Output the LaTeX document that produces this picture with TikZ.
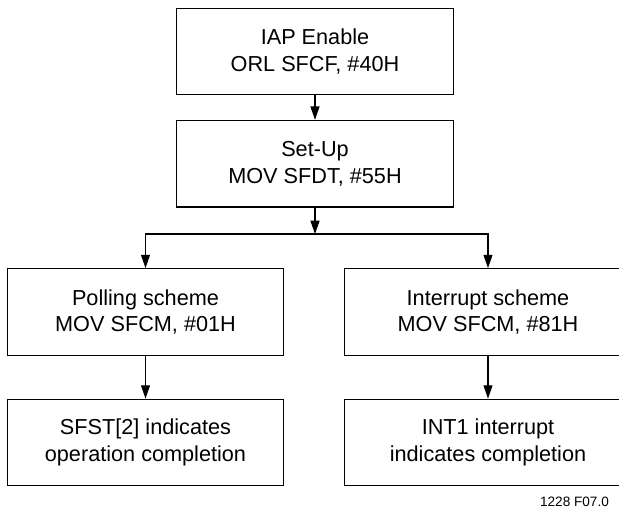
\documentclass[tikz,border=0pt]{standalone}
\usepackage{fontspec}
\setmainfont{Liberation Sans}
\usetikzlibrary{arrows.meta}
\tikzset{
	stepbox/.style={draw, line width=0.35mm, minimum width=83mm, minimum height=26mm, align=center, inner sep=0pt, font=\fontsize{18.5}{22.5}\selectfont},
	widebox/.style={stepbox, minimum width=86mm},
	flow/.style={line width=0.35mm, -{Triangle[length=4mm, width=2.7mm]}}
}
\begin{document}
\begin{tikzpicture}[x=0.3mm, y=-0.3mm]
		\useasboundingbox (0,0) rectangle (619,512);
		\node[stepbox] (enable) at (315,51.5) {IAP Enable\\ORL SFCF, \#40H};
		\node[stepbox] (setup) at (315,163.7) {Set-Up\\MOV SFDT, \#55H};
		\node[stepbox] (poll) at (145.5,312) {Polling scheme\\MOV SFCM, \#01H};
		\node[widebox] (intr) at (488,312) {Interrupt scheme\\MOV SFCM, \#81H};
		\node[stepbox] (pdone) at (145.5,442.5) {SFST[2] indicates\\operation completion};
		\node[widebox] (idone) at (488,442.5) {INT1 interrupt\\indicates completion};
		\coordinate (split) at (315,234);
		\node[anchor=base east, font=\fontsize{11.6}{14}\selectfont] (figno) at (613,506.5) {1228 F07.0};
		\draw[flow] (enable) -- (setup);
		\draw[flow] (setup) -- (split);
		\draw[flow] (split) -| (poll);
		\draw[flow] (split) -| (intr);
		\draw[flow] (poll) -- (pdone);
		\draw[flow] (intr) -- (idone);
\end{tikzpicture}
\end{document}
